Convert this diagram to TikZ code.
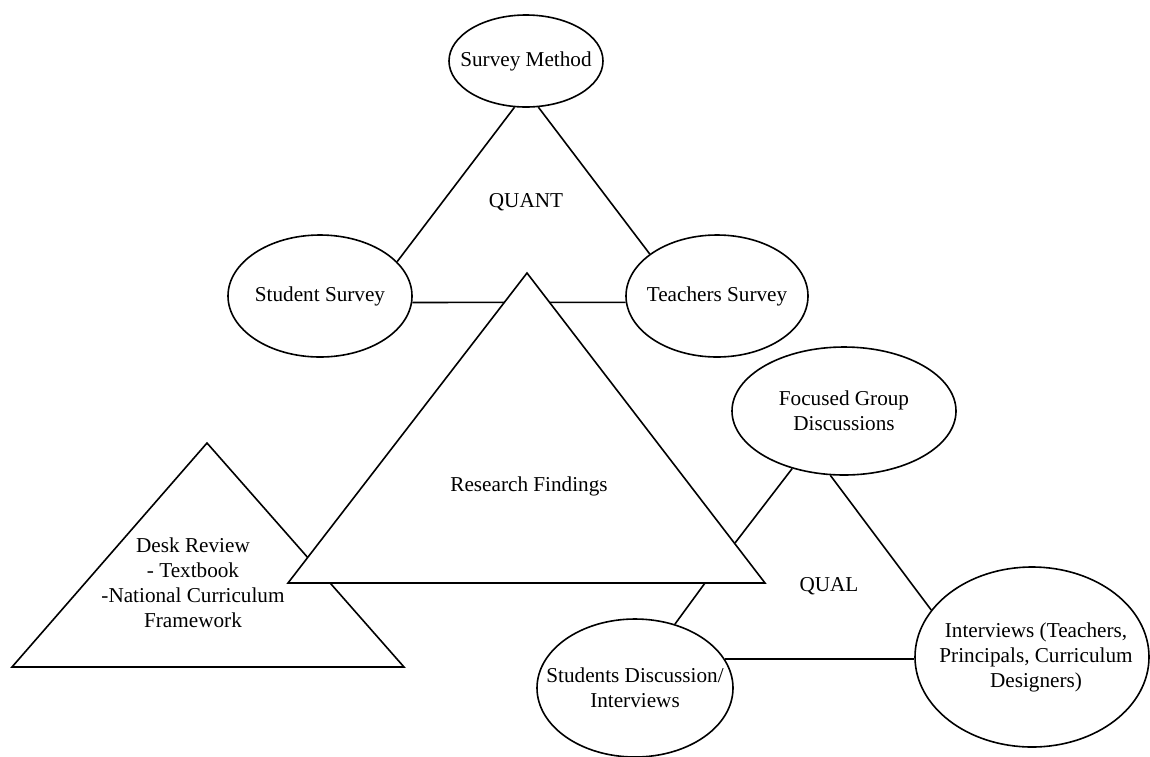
\documentclass[tikz,border=0pt]{standalone}
\usepackage{fontspec}
\setmainfont{Liberation Serif}
\usetikzlibrary{shapes.geometric}
\tikzset{
  bubble/.style={ellipse, draw, fill=white, inner sep=0pt},
  txt/.style={align=center, inner sep=0pt, font=\fontsize{10.6}{12.5}\selectfont},
}
\begin{document}
\begin{tikzpicture}[x=0.5pt, y=-0.5pt, line width=0.8pt]
  \useasboundingbox (0,0) rectangle (1150,756);
  \draw (207,443)--(12,667)--(404,667)--cycle;
  \node[txt](dr) at (193,583) {Desk Review\\- Textbook\\-National Curriculum\\Framework};
  \node[bubble, minimum width=77pt, minimum height=46pt, label={[txt]center:Survey Method}](sm) at (526,61) {};
  \node[bubble, minimum width=92pt, minimum height=61pt, label={[txt]center:Student Survey}](ss) at (320,296) {};
  \node[bubble, minimum width=91pt, minimum height=61pt, label={[txt]center:Teachers Survey}](ts) at (717,296) {};
  \node[bubble, minimum width=112pt, minimum height=64pt, label={[txt]center:{Focused Group\\Discussions}}](fg) at (844,411) {};
  \node[bubble, minimum width=98pt, minimum height=69pt, label={[txt]center:{Students Discussion/\\Interviews}}](sd) at (635,688) {};
  \node[bubble, minimum width=117pt, minimum height=90pt, label={[txt,xshift=2pt]center:{Interviews (Teachers,\\Principals, Curriculum\\Designers)}}](iv) at (1032,657) {};
  \node[txt](quant) at (526,202) {QUANT};
  \node[txt](qual) at (829,586) {QUAL};
  \coordinate (rf-top) at (527,273);
  \coordinate (rf-left) at (288,583);
  \coordinate (rf-right) at (765,583);
  \coordinate (fg-end) at (735,543);
  \coordinate (sd-end) at (705,583);
  \draw (sm.256)--(ss.24);
  \draw (sm.285)--(ts.148);
  \draw (ss.-4)--(ts.184);
  \draw (fg.228)--(fg-end);
  \draw (fg.258)--(iv.155);
  \draw (sd.58)--(sd-end);
  \draw (sd.18)--(sd.18 -| iv.west);
  \draw[fill=white] (rf-top)--(rf-left)--(rf-right)--cycle;
  \node[txt](rf) at (529,486) {Research Findings};
\end{tikzpicture}
\end{document}
